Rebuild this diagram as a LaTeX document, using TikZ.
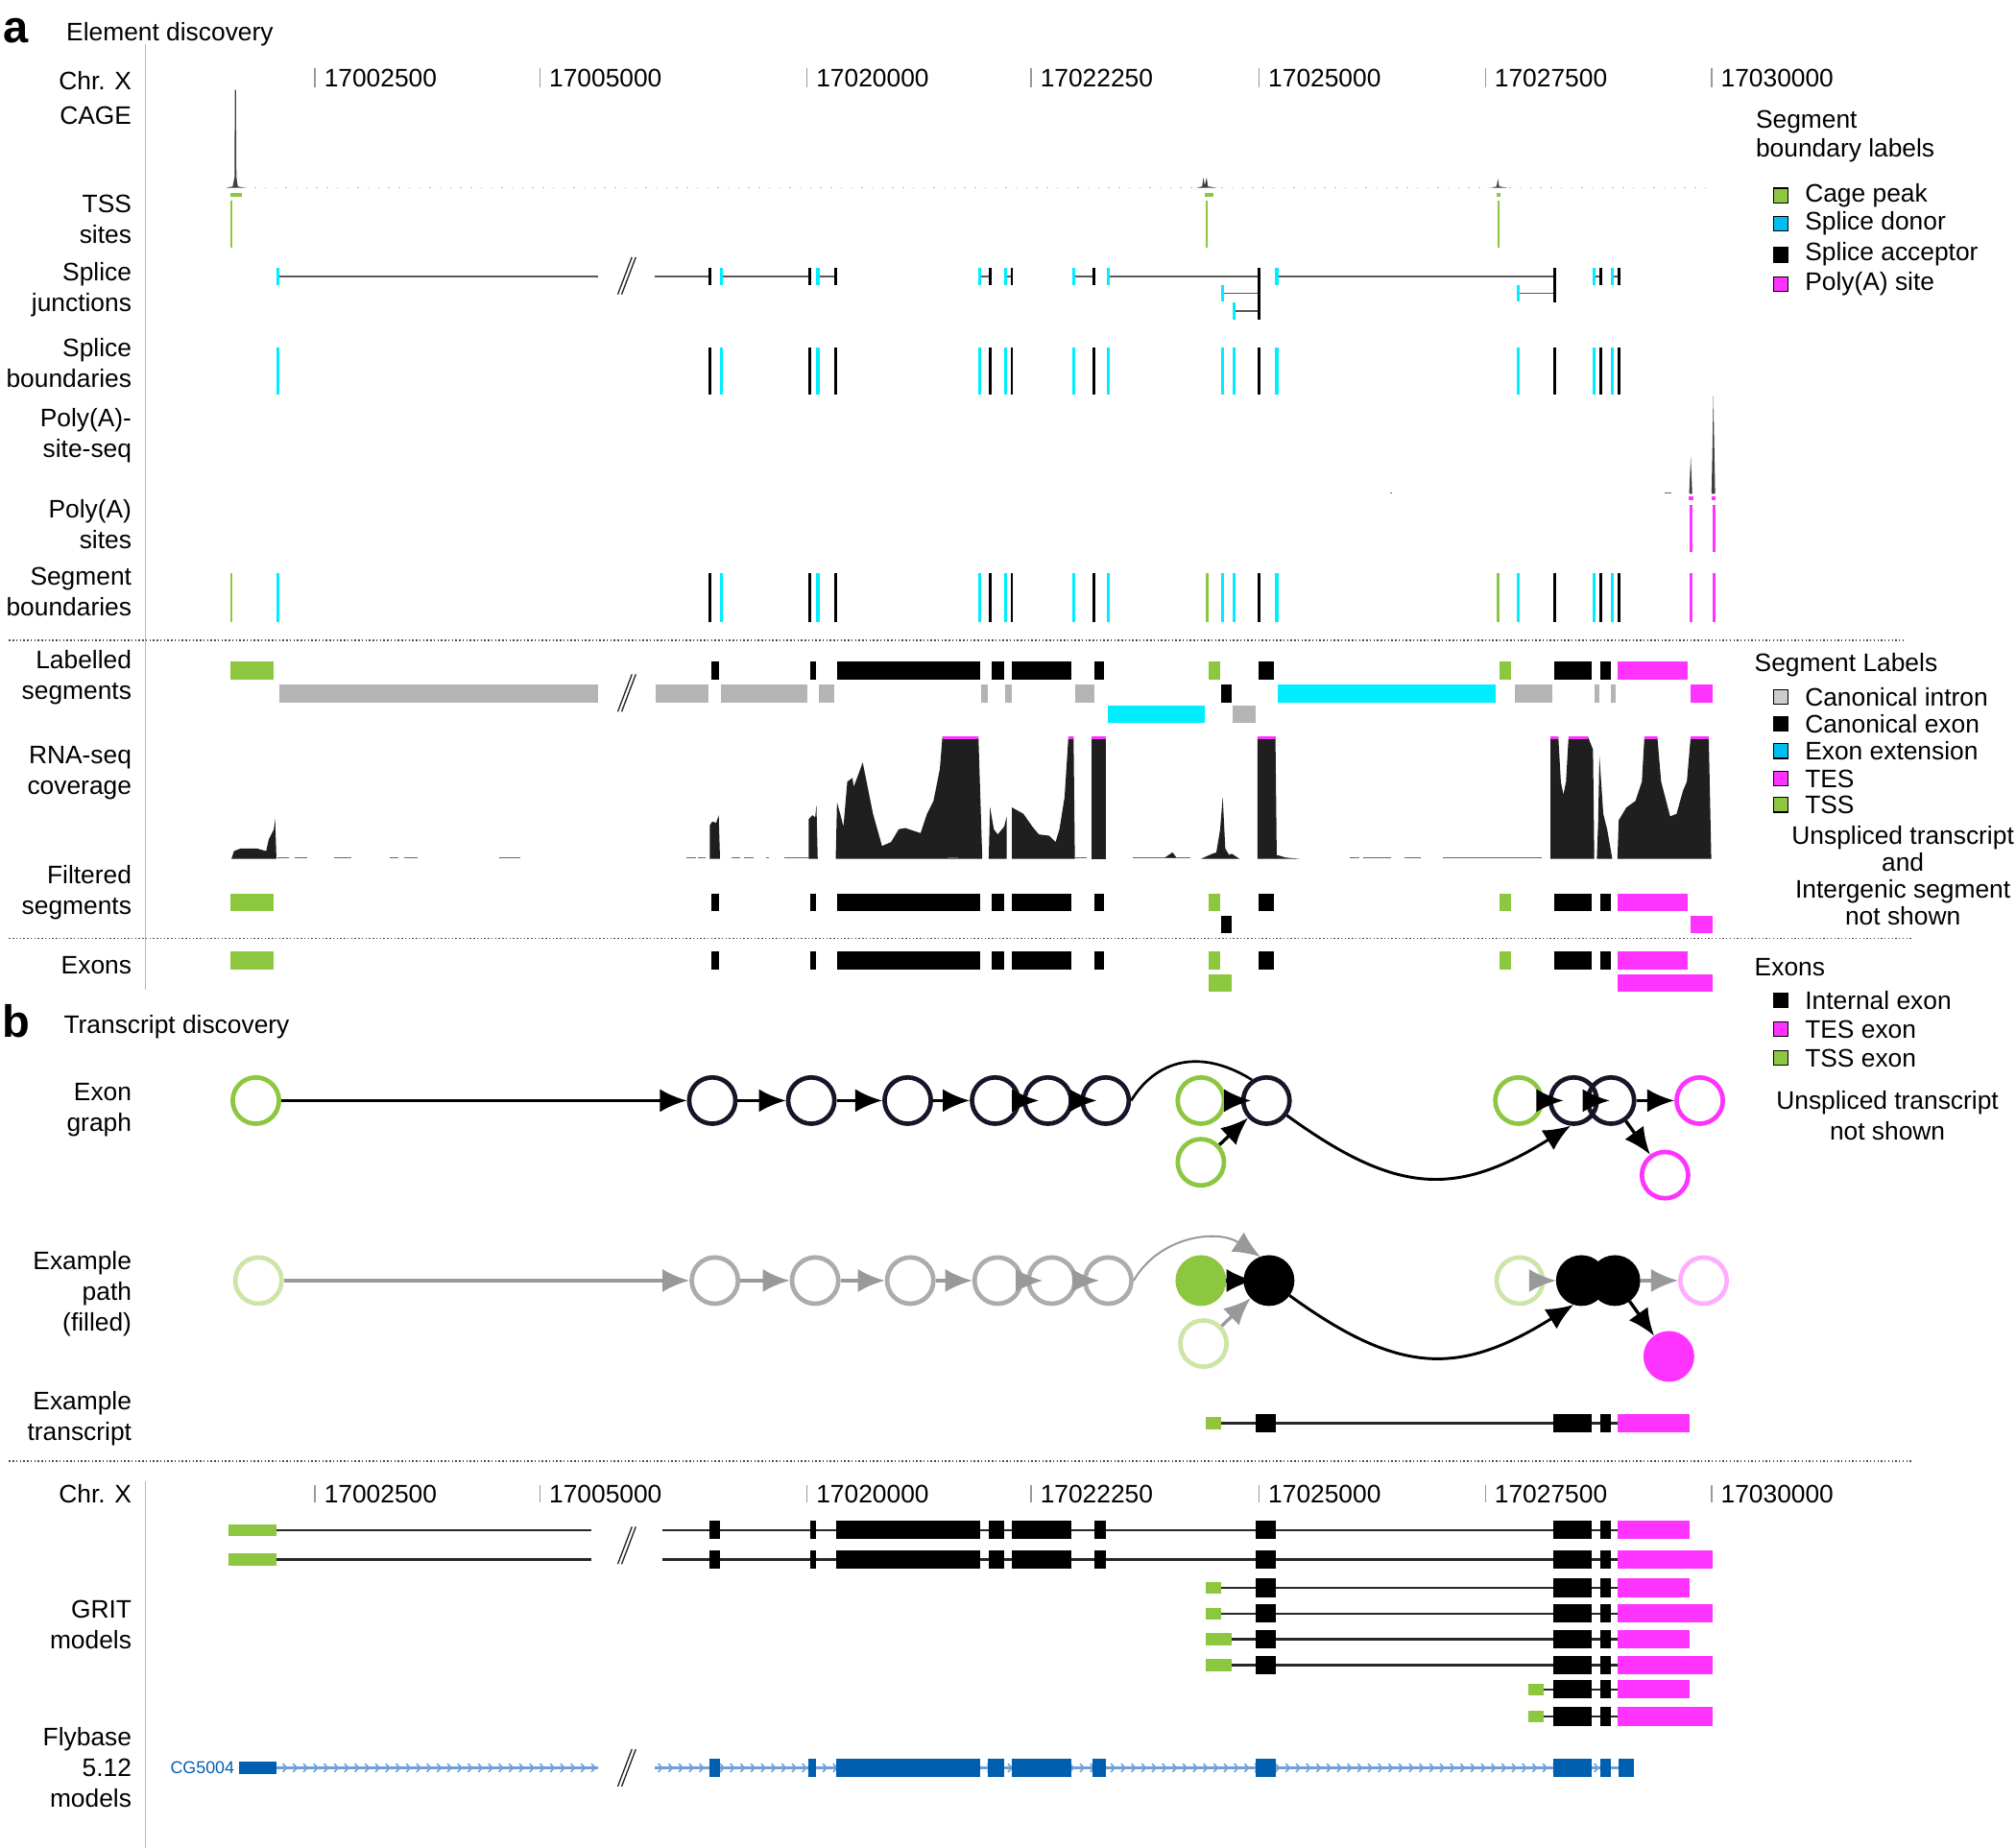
\documentclass[tikz,border=0pt]{standalone}
\usepackage{fontspec}
\setmainfont{Liberation Sans}
\usepackage{tikz}
\usetikzlibrary{arrows.meta,positioning}
\definecolor{tssgreen}{RGB}{141,198,63}
\definecolor{trkcyan}{RGB}{0,238,255}
\definecolor{legcyan}{RGB}{0,190,240}
\definecolor{tesmag}{RGB}{255,51,255}
\definecolor{introngrey}{RGB}{180,180,180}
\definecolor{flyblue}{RGB}{0,95,175}
\definecolor{flyline}{RGB}{110,160,215}
\definecolor{nodeink}{RGB}{22,22,40}
\definecolor{axisred}{RGB}{242,160,160}
\newcommand{\segbox}[5]{\fill[#1] (#2,#4-#5) rectangle (#3,#4+#5);}
\newcommand{\gapmark}[1]{%
	\draw[gapline] (480.5,#1+14.5) -- (491.5,#1-14.5);
	\draw[gapline] (483.5,#1+14.5) -- (494.5,#1-14.5);}
\newcommand{\segrow}[1]{%
	\segbox{tssgreen}{179}{213}{#1}{6.8}
	\foreach \a/\b in {553/559,630/635,651/762,771/781,787/833,851/859,979/991,1209/1238,1245/1253}
		{\segbox{black}{\a}{\b}{#1}{6.8}}
	\segbox{tssgreen}{940}{949}{#1}{6.8}
	\segbox{tssgreen}{1166}{1175}{#1}{6.8}
	\segbox{tesmag}{1258}{1313}{#1}{6.8}}
\newcommand{\legitem}[4]{%
	\node[legbox, fill=#2] (#1box) at (1385,#3) {};
	\node[legtxt, right=1.2mm of #1box] (#1) {#4};}

\begin{document}
\begin{tikzpicture}
	[
		x=0.1mm, y=-0.1mm,
		font={\fontsize{5.6}{6.8}\selectfont},
		every node/.style={inner sep=0},
		trk/.style={anchor=east, align=right},
		axislab/.style={anchor=west},
		axtick/.style={draw=gray!80, line width=0.1mm},
		sepline/.style={draw=black!70, line width=0.11mm, dash pattern=on 0.11mm off 0.17mm},
		redline/.style={draw=axisred, line width=0.1mm},
		donor/.style={draw=trkcyan, line width=0.26mm},
		acceptor/.style={draw=black, line width=0.22mm},
		tssline/.style={draw=tssgreen, line width=0.2mm},
		pasline/.style={draw=tesmag, line width=0.24mm},
		jline/.style={draw=black!65, line width=0.12mm},
		gapline/.style={draw=black!85, line width=0.1mm},
		peak/.style={fill=black!75},
		cov/.style={fill=black!88},
		covnoise/.style={draw=black!60, line width=0.09mm},
		covcap/.style={draw=tesmag, line width=0.22mm},
		intron/.style={draw=black!85, line width=0.18mm},
		flyintron/.style={draw=flyline, line width=0.16mm},
		flychev/.style={draw=flyline, line width=0.12mm},
		legbox/.style={draw=black, line width=0.1mm, minimum size=1.15mm},
		legtxt/.style={anchor=west},
		leghead/.style={anchor=west, align=left},
		legnote/.style={align=center, font={\fontsize{5.6}{6}\selectfont}},
		vtx/.style={circle, minimum size=3.6mm, line width=0.35mm},
		midv/.style={vtx, draw=nodeink},
		tssv/.style={vtx, draw=tssgreen},
		tesv/.style={vtx, draw=tesmag},
		fadev/.style={vtx, draw=gray!65},
		fadetss/.style={vtx, draw=tssgreen!45},
		fadetes/.style={vtx, draw=tesmag!40},
		pathv/.style={vtx, draw=black, fill=black},
		pathtss/.style={vtx, draw=tssgreen, fill=tssgreen},
		pathtes/.style={vtx, draw=tesmag, fill=tesmag},
		arch/.style={-{Latex[length=2.1mm,width=1.8mm]}, line width=0.25mm},
		garch/.style={arch, draw=gray!80},
		sink/.style={shorten >=#1},
	]
	\fill[white] (0,0) rectangle (1568,1437);
	\useasboundingbox (0,0) rectangle (1568,1437);

	% panel titles
	\node[font={\fontsize{10}{12}\selectfont\bfseries}, anchor=west] (pa) at (2,24) {a};
	\node[anchor=base west] (ta) at (51,31.5) {Element discovery};
	\node[font={\fontsize{10}{12}\selectfont\bfseries}, anchor=west] (pb) at (1,794) {b};
	\node[anchor=base west] (tb) at (49,804) {Transcript discovery};

	% track labels
	\node[trk] (lChr) at (103,63) {Chr. X};
	\node[trk] (lCage) at (103,90) {CAGE};
	\node[trk] (lTss) at (103,170.5) {TSS\\sites};
	\node[trk] (lJunc) at (103,225) {Splice\\junctions};
	\node[trk] (lBound) at (103,282) {Splice\\boundaries};
	\node[trk] (lPasSeq) at (103,338.5) {Poly(A)-\\site-seq};
	\node[trk] (lPas) at (103,408) {Poly(A)\\sites};
	\node[trk] (lSegB) at (103,460.5) {Segment\\boundaries};
	\node[trk] (lLab) at (103,527) {Labelled\\segments};
	\node[trk] (lRna) at (103,601) {RNA-seq\\coverage};
	\node[trk] (lFilt) at (103,694) {Filtered\\segments};
	\node[trk] (lExons) at (103,751) {Exons};
	\node[trk] (lGraph) at (103,863) {Exon\\graph};
	\node[trk] (lPath) at (103,1006.5) {Example\\path\\(filled)};
	\node[trk] (lTx) at (103,1103) {Example\\transcript};
	\node[trk] (lChrB) at (103,1162) {Chr. X};
	\node[trk] (lGrit) at (103,1263.5) {GRIT\\models};
	\node[trk] (lFly) at (103,1375) {Flybase\\5.12\\models};

	\draw[redline] (113,34) -- (113,770);
	\draw[redline] (113,1152) -- (113,1437);
	\draw[sepline] (7,498) -- (1480,498);
	\draw[sepline] (7,730) -- (1487,730);
	\draw[sepline] (7,1136.5) -- (1487,1136.5);

	% coordinate axes
	\foreach \x/\pos in {245/17002500,420/17005000,627.7/17020000,802/17022250,979.3/17025000,1155.3/17027500,1331.3/17030000}
	{
		\draw[axtick] (\x,53) -- (\x,68);
		\node[axislab] (ax\pos) at (\x+6.5,60.5) {\pos};
		\draw[axtick] (\x,1155) -- (\x,1168.5);
		\node[axislab] (bx\pos) at (\x+6.5,1162) {\pos};
	}

	% CAGE
	\draw[gray!55, line width=0.08mm, dash pattern=on 0.1mm off 0.7mm] (190,146) -- (1330,146);
	\fill[peak] (176,146) -- (181,145) -- (182.4,138) -- (182.7,70) -- (183.5,70) -- (183.9,138) -- (185,145) -- (190,146) -- cycle;
	\fill[peak] (931,146) -- (935,145) -- (936,138) -- (937,144) -- (938.5,138) -- (939.5,145) -- (946,146) -- cycle;
	\fill[peak] (1160,146) -- (1164,145) -- (1165,139) -- (1166,145) -- (1172,146) -- cycle;
	\segbox{tssgreen}{179}{188}{151.5}{1.6}
	\segbox{tssgreen}{937}{944}{151.5}{1.6}
	\segbox{tssgreen}{1164}{1167}{151.5}{1.6}
	\foreach \x in {180,938.5,1165.5} {\draw[tssline] (\x,156) -- (\x,193);}

	% splice junctions
	\draw[jline] (216,215) -- (465,215);
	\draw[jline] (509,215) -- (552,215);
	\gapmark{214.5}
	\draw[donor] (216,208.5) -- (216,221.5);
	\draw[acceptor] (552,208.5) -- (552,221.5);
	\foreach \y/\d/\a in {215/561/630,215/636/650,215/762/770,215/782/787,215/835/851,215/862/979,215/993/1209,228/951/979,242/960/979,228/1181/1209,215/1240/1245,215/1254/1259}
	{
		\draw[jline] (\d,\y) -- (\a,\y);
		\draw[donor] (\d,\y-6.5) -- (\d,\y+6.5);
		\draw[acceptor] (\a,\y-6.5) -- (\a,\y+6.5);
	}
	\draw[acceptor] (979,208.5) -- (979,249);
	\draw[acceptor] (1209,208.5) -- (1209,235);

	% splice boundaries and segment boundaries
	\foreach \x in {216,561,636,762,782,835,862,951,960,993,1181,1240,1254}
	{
		\draw[donor] (\x,270) -- (\x,307);
		\draw[donor] (\x,446) -- (\x,484);
	}
	\foreach \x in {552,630,650,770,787,851,979,1209,1245,1259}
	{
		\draw[acceptor] (\x,270) -- (\x,307);
		\draw[acceptor] (\x,446) -- (\x,484);
	}
	\foreach \x in {180,939,1165} {\draw[tssline] (\x,446) -- (\x,484);}
	\foreach \x in {1315,1333} {\draw[pasline] (\x,446) -- (\x,484);}

	% poly(A)-site-seq and poly(A) sites
	\fill[peak] (1313.8,384) -- (1315,355) -- (1316.2,384) -- cycle;
	\fill[peak] (1331.2,384) -- (1332.6,308) -- (1334,384) -- cycle;
	\draw[covnoise] (1295,383.5) -- (1300,383.5);
	\draw[covnoise] (1081.5,383.5) -- (1083,383.5);
	\segbox{tesmag}{1313.5}{1317}{387.5}{1.6}
	\segbox{tesmag}{1331}{1334.5}{387.5}{1.6}
	\foreach \x in {1315,1333} {\draw[pasline] (\x,393) -- (\x,429);}

	% labelled segments
	\segrow{521.5}
	\foreach \a/\b in {217/465,510/551,561/628,637/649,763/768,782/787,836/851,1178/1207,1240/1244,1253/1257}
		{\segbox{introngrey}{\a}{\b}{539.5}{6.8}}
	\segbox{black}{950}{958}{539.5}{6.8}
	\segbox{trkcyan}{994}{1163}{539.5}{6.8}
	\segbox{tesmag}{1315}{1332}{539.5}{6.8}
	\segbox{trkcyan}{862}{937}{555.5}{6.8}
	\segbox{introngrey}{959}{977}{555.5}{6.8}
	\gapmark{539}

	% RNA-seq coverage
	\fill[cov] (180,668) -- (182,662) -- (187,660) -- (200,660) -- (207,662) -- (209,653) -- (213,645) -- (214,637) -- (215,668) -- cycle;
	\fill[cov] (552,668) -- (552,642) -- (554,639) -- (557,640) -- (559,634) -- (560,668) -- cycle;
	\fill[cov] (629,668) -- (629,637) -- (632,634) -- (634,636) -- (635,626) -- (636,668) -- cycle;
	\fill[cov] (650,668) -- (651,624) -- (654,635) -- (656,643) -- (659,608) -- (663,605) -- (664,612) -- (667,604) -- (671,593) -- (674,608) -- (679,633) -- (686,658) -- (693,655) -- (699,645) -- (704,644) -- (716,648) -- (721,633) -- (726,623) -- (731,598) -- (733,573) -- (761,573) -- (764,668) -- cycle;
	\fill[cov] (769,668) -- (770,628) -- (773,645) -- (776,649) -- (781,643) -- (783,635) -- (783,668) -- cycle;
	\fill[cov] (787,668) -- (787,628) -- (796,633) -- (803,643) -- (808,649) -- (816,650) -- (821,655) -- (824,645) -- (828,620) -- (831,573) -- (835,573) -- (836,668) -- cycle;
	\fill[cov] (849,668) -- (849,573) -- (860,573) -- (860,668) -- cycle;
	\fill[cov] (934,668) -- (943,664) -- (946,663) -- (949,645) -- (951,620) -- (953,660) -- (956,665) -- (958,664) -- (964,668) -- cycle;
	\fill[cov] (978,668) -- (978,573) -- (992,573) -- (993,665) -- (1000,667) -- (1011,668) -- cycle;
	\fill[cov] (1206,668) -- (1206,573) -- (1212,573) -- (1214,608) -- (1216,618) -- (1218,608) -- (1220,573) -- (1235,573) -- (1239,583) -- (1240,668) -- cycle;
	\fill[cov] (1242,668) -- (1243,640) -- (1244,588) -- (1247,633) -- (1250,645) -- (1254,668) -- cycle;
	\fill[cov] (1258,668) -- (1259,638) -- (1265,628) -- (1272,623) -- (1277,608) -- (1279,573) -- (1289,573) -- (1292,608) -- (1299,635) -- (1304,633) -- (1309,615) -- (1312,608) -- (1315,573) -- (1329,573) -- (1331,668) -- cycle;
	\foreach \a/\b in {733/761,831/835,849/860,978/992,1206/1212,1220/1235,1279/1289,1315/1329}
		{\draw[covcap] (\a,573.5) -- (\b,573.5);}
	\foreach \a/\b in {216/225,229/239,260/273,303/310,314/325,388/405,534/541,543/549,569/576,579/586,596/598,610/629,737/745,836/845,881/926,1050/1057,1060/1082,1092/1105,1122/1199}
		{\draw[covnoise] (\a,667) -- (\b,667);}
	\fill[cov] (906,667) -- (912,663) -- (915,667) -- cycle;

	% filtered segments
	\segrow{702}
	\segbox{black}{950}{958}{719}{6.8}
	\segbox{tesmag}{1315}{1332}{719}{6.8}

	% exons
	\segrow{747}
	\segbox{tssgreen}{940}{958}{764.5}{6.8}
	\segbox{tesmag}{1258}{1332}{764.5}{6.8}

	% legends
	\node[leghead, font={\fontsize{5.6}{6.4}\selectfont}] (hdBound) at (1365,106) {Segment\\boundary labels};
	\legitem{lgCage}{tssgreen}{152}{Cage peak}
	\legitem{lgDonor}{legcyan}{174}{Splice donor}
	\legitem{lgAcc}{black}{198}{Splice acceptor}
	\legitem{lgPas}{tesmag}{221}{Poly(A) site}

	\node[leghead] (hdSeg) at (1364,517) {Segment Labels};
	\legitem{lgIntron}{gray!40}{542}{Canonical intron}
	\legitem{lgExon}{black}{563}{Canonical exon}
	\legitem{lgExt}{legcyan}{584}{Exon extension}
	\legitem{lgTes}{tesmag}{605.5}{TES}
	\legitem{lgTss}{tssgreen}{626}{TSS}
	\node[legnote] (noteSeg) at (1480,681) {Unspliced transcript\\and\\Intergenic segment\\not shown};

	\node[leghead] (hdExon) at (1364,752.5) {Exons};
	\legitem{lgInt}{black}{778}{Internal exon}
	\legitem{lgTesEx}{tesmag}{800.4}{TES exon}
	\legitem{lgTssEx}{tssgreen}{822.8}{TSS exon}
	\node[align=center] (noteEx) at (1468,868) {Unspliced transcript\\not shown};

	% exon graph
	\node[tssv] (t0) at (199,856) {};
	\node[midv] (e1) at (554,856) {};
	\node[midv] (e2) at (631,856) {};
	\node[midv] (e3) at (706,856) {};
	\node[midv] (e4) at (774,856) {};
	\node[midv] (e5) at (815,856) {};
	\node[midv] (e6) at (860,856) {};
	\node[tssv] (g1) at (934,856) {};
	\node[tssv] (g2) at (934,904) {};
	\node[midv] (e7) at (985,856) {};
	\node[tssv] (g3) at (1181,856) {};
	\node[midv] (e8) at (1224,856) {};
	\node[midv] (e9) at (1253,856) {};
	\node[tesv] (x1) at (1322,856) {};
	\node[tesv] (x2) at (1295,914) {};
	\draw[arch] (t0) -- (e1);
	\draw[arch] (e1) -- (e2);
	\draw[arch] (e2) -- (e3);
	\draw[arch] (e3) -- (e4);
	\draw[arch, sink=0.7mm] (e4.east) -- (e5.center);
	\draw[arch, sink=0.7mm] (e5.east) -- (e6.center);
	\draw[line width=0.2mm] (e6.east) .. controls +(58:4.2mm) and +(148:4.2mm) .. (e7.125);
	\draw[arch, sink=1.2mm] (g1.east) -- (e7.center);
	\draw[arch] (g2) -- (e7);
	\draw[arch, line width=0.22mm] (e7.-36) .. controls +(-36:10.5mm) and +(212:10.5mm) .. (e8.-97);
	\draw[arch, sink=0.8mm] (g3.east) -- (e8.center);
	\draw[arch, sink=0.1mm] (e8.east) -- (e9.center);
	\draw[arch] (e9) -- (x1);
	\draw[arch] (e9) -- (x2);

	% example path
	\node[fadetss] (pt0) at (201,996) {};
	\node[fadev] (p1) at (556,996) {};
	\node[fadev] (p2) at (634,996) {};
	\node[fadev] (p3) at (708,996) {};
	\node[fadev] (p4) at (776,996) {};
	\node[fadev] (p5) at (818,996) {};
	\node[fadev] (p6) at (862,996) {};
	\node[pathtss] (pg1) at (934,996) {};
	\node[fadetss] (pg2) at (936,1045) {};
	\node[pathv] (p7) at (987,996) {};
	\node[fadetss] (pg3) at (1182,996) {};
	\node[pathv] (p8) at (1230,996) {};
	\node[pathv] (p9) at (1256,996) {};
	\node[fadetes] (px1) at (1325,996) {};
	\node[pathtes] (px2) at (1298,1055) {};
	\draw[garch] (pt0) -- (p1);
	\draw[garch] (p1) -- (p2);
	\draw[garch] (p2) -- (p3);
	\draw[garch] (p3) -- (p4);
	\draw[garch, sink=0.7mm] (p4.east) -- (p5.center);
	\draw[garch, sink=0.7mm] (p5.east) -- (p6.center);
	\draw[garch, line width=0.15mm] (p6.east) .. controls +(60:4mm) and +(147:4mm) .. (p7.110);
	\draw[arch, sink=1.2mm] (pg1.east) -- (p7.center);
	\draw[garch] (pg2) -- (p7);
	\draw[arch, line width=0.22mm] (p7.-36) .. controls +(-36:10.5mm) and +(212:10.5mm) .. (p8.-108);
	\draw[garch] (pg3) -- (p8);
	\draw[garch] (p9) -- (px1);
	\draw[arch] (p9) -- (px2);

	% example transcript
	\draw[intron] (950,1107) -- (1258,1107);
	\segbox{tssgreen}{938}{950}{1107}{4.6}
	\foreach \a/\b in {977/992,1208/1238,1245/1253} {\segbox{black}{\a}{\b}{1107}{7.2}}
	\segbox{tesmag}{1258}{1314}{1107}{7.2}

	% GRIT models
	\foreach \y/\m in {1190/1314,1213/1332}
	{
		\draw[intron] (215,\y) -- (460,\y);
		\draw[intron] (515,\y) -- (1258,\y);
		\segbox{tssgreen}{178}{215}{\y}{4.6}
		\foreach \a/\b in {552/560,630/635,650/762,769/781,787/833,851/860,977/992,1208/1238,1245/1253}
			{\segbox{black}{\a}{\b}{\y}{7.2}}
		\segbox{tesmag}{1258}{\m}{\y}{7.2}
	}
	\gapmark{1202}
	\foreach \y/\g/\m in {1235/950/1314,1255/950/1332,1275/958/1314,1295/958/1332}
	{
		\draw[intron] (\g,\y) -- (1258,\y);
		\segbox{tssgreen}{938}{\g}{\y}{4.6}
		\foreach \a/\b in {977/992,1208/1238,1245/1253} {\segbox{black}{\a}{\b}{\y}{7.2}}
		\segbox{tesmag}{1258}{\m}{\y}{7.2}
	}
	\foreach \y/\m in {1314/1314,1335/1332}
	{
		\draw[intron] (1201,\y) -- (1258,\y);
		\segbox{tssgreen}{1189}{1201}{\y}{4.6}
		\foreach \a/\b in {1208/1238,1245/1253} {\segbox{black}{\a}{\b}{\y}{7.2}}
		\segbox{tesmag}{1258}{\m}{\y}{7.2}
	}

	% Flybase models
	\node[anchor=east, text=flyblue, font={\fontsize{3.8}{4}\selectfont}] (cgName) at (183,1375) {CG5004};
	\draw[flyintron] (215,1375) -- (465,1375);
	\draw[flyintron] (509,1375) -- (1259,1375);
	\foreach \x in {222,230,...,462} {\draw[flychev] (\x-2,1371.8) -- (\x+1,1375) -- (\x-2,1378.2);}
	\foreach \x in {514,522,...,1254} {\draw[flychev] (\x-2,1371.8) -- (\x+1,1375) -- (\x-2,1378.2);}
	\segbox{flyblue}{186}{215}{1375}{4.6}
	\foreach \a/\b in {552/560,629/635,650/762,768/781,787/833,850/860,977/992,1208/1238,1245/1253,1259/1271}
		{\segbox{flyblue}{\a}{\b}{1375}{7}}
	\gapmark{1375}
\end{tikzpicture}
\end{document}
